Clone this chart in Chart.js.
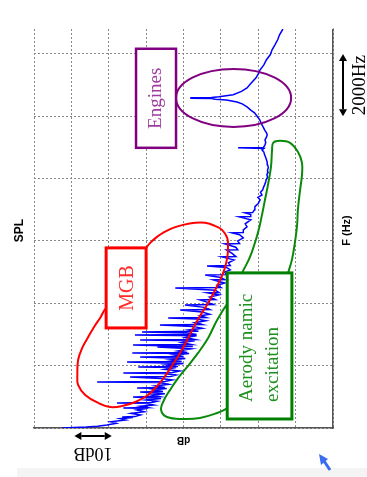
<!DOCTYPE html>
<html><head><meta charset="utf-8">
<script src="https://cdn.jsdelivr.net/npm/chart.js@4.4.0/dist/chart.umd.min.js"></script>
<style>html,body{margin:0;padding:0;background:#fff;}canvas{display:block;}</style>
</head><body>
<canvas id="c" width="367" height="477"></canvas>
<script>
// ---- spectrum (frequency in Hz, level in dB) ----
const freqHz = [0,30,60,96,150,200,257,300,340,353,365,417,470,520,578,630,642,655,700,738,790,803,815,860,899,950,995,1010,1059,1100,1156,1170,1220,1270,1284,1300,1350,1400,1460,1477,1490,1540,1590,1637,1650,1700,1750,1766,1780,1830,1880,1940,1958,1975,2022,2070,2119,2135,2183,2230,2279,2295,2343,2390,2408,2425,2470,2540,2600,2615,2664,2680,2740,2800,2825,2840,2900,2960,2985,3000,3050,3082,3100,3146,3200,3260,3306,3320,3380,3440,3500,3531,3545,3600,3650,3720,3788,3800,3870,3948,3960,4030,4109,4120,4200,4270,4334,4345,4420,4494,4505,4580,4650,4700,4751,4760,4830,4911,4920,5000,5072,5150,5200,5210,5300,5393,5489,5500,5600,5714,5720,5800,5906,5915,6000,6100,6200,6260,6270,6356,6450,6550,6677,6773,6785,6850,6902,6910,7000,7100,7200,7319,7400,7479,7560,7640,7720,7800,7900,7961,8050,8121,8200,8282,8360,8442,8520,8603,8680,8763,8850,8924,8970,8990,9000,9084,9160,9245,9330,9405,9470,9566,9660,9770,9887,10000,10110,10200,10300,10400,10460,10520,10550,10570,10580,10590,10595,10600,10625,10690,10800,10910,11050,11235,11400,11492,11650,11813,11973,12134,12300,12455,12615,12800];
const splDb = [72.5,66,63,60.5,58,59.5,55.5,57,53.5,56.4,53,51.5,54,50.5,52.5,49.5,56.1,49.5,51.5,48,50.5,57.8,48.5,47,50,46,53.5,46.5,48.5,45,51.6,45.5,48,44.5,52.4,45,47.5,44,46.5,63.1,45,43,46,54.3,43.5,42,45.5,56.1,43,41,45,42,52.1,41.5,44.5,40,55.1,40.5,43.5,39.5,51.6,40,42.5,38.5,53.7,39,41.5,38,47,37.5,53.5,38,40.5,37,51.6,37,39.5,36.5,53,36.5,39,51.1,36,38.5,35,37.5,46.3,35,37,34,36.5,44.1,34,35.5,33,35,40.9,33,34.5,39.6,32,33.5,35.6,31.5,33,30.5,33.5,30.5,31.5,42.2,30,31,29,30.5,32,29,30,34.2,28.5,29,27.5,28.5,33.7,27.5,28,26.5,29.7,26,27,28.5,25.5,26,28.9,25,25.5,24,25,27,24,24,23,23.5,22,25.1,22,22,23.5,21.5,21,20.9,20.0,19.5,20.1,19,19.4,18.8,18.6,18.3,18.0,17.9,17.5,17.7,17.4,17.5,17.3,17.5,17.6,17.8,18.0,18.3,18.5,19.0,18.5,25.4,18.6,18.2,18.0,18.2,17.8,17.6,17.8,18.3,18.7,19.2,19.6,20.3,21.0,22.0,23.0,24.3,25.7,28.5,31.5,32.5,38.2,33,38.2,32.5,30.5,26.7,24.5,23.0,22.0,20.6,19.8,19.5,18.5,17.8,16.8,16.3,15.5,14.8,14.3,13.4];

// ---- hand-drawn zones ----
const mgbZoneSpl = [50.0,48.9,47.1,45.5,42.8,40.1,36.9,34.2,31.6,29.7,28.3,28.1,28.3,29.1,30.2,31.8,33.4,35.6,37.4,39.0,40.9,42.8,44.9,46.8,49.5,52.9,56.4,59.6,62.8,66.3,68.2,68.4,68.2,67.1,65.5,63.6,62.3,60.7,58.0];
const mgbZoneHz  = [5778,5939,6131,6260,6420,6516,6581,6581,6484,6356,6099,5778,5457,5072,4751,4366,4013,3595,3210,2825,2408,2054,1669,1380,1059,835,706,674,803,1059,1380,1701,2183,2568,2921,3306,3531,3852,4100];
const aeroLowSpl = [26.5,28.1,31.0,33.4,36.1,39.0,41.4,43.6,45.2,46.0,44.4,40.1,35.6,31.0,28.1,26.5];
const aeroLowHz  = [4200,4013,3467,2889,2408,1958,1605,1220,899,578,353,289,321,482,642,750];
const aeroHighSpl = [12.5,12.0,11.0,10.2,9.6,9.4,8.8,8.3,8.3,9.4,11.5,14.2,16.0,16.3,16.6,17.4,18.2,19.0,20.1,22.2,24.3,25.0];
const aeroHighHz  = [4700,4976,5393,5939,6516,6998,7640,8121,8507,8860,9149,9213,9149,8924,8378,7800,7319,6837,6260,5489,4976,4700];

// ---- axis settings / labels ----
const splTicks = [0, 10, 20, 30, 40, 50, 60, 70, 80];
const hzTicks = [0, 2000, 4000, 6000, 8000, 10000, 12000];
const splRange = [0, 80];
const hzRange = [0, 12800];
const labelSpl = 'SPL', labelFreq = 'F (Hz)', labelDb = 'dB', label10dB = '10dB', label2000 = '2000Hz';

const engineEllipse = {spl: 26.6, hz: 10590, dSpl: 15.4, dHz: 930};
const boxes = [
  {lines:['Engines'], spl:[52.7,42.0], hz:[8988,12166], stroke:'#800080', lw:2.5, color:'#a03ca0', size:19, align:'center', textSpl:[47.3], textHz:10577},
  {lines:['MGB'], spl:[60.7,50.0], hz:[3210,5778], stroke:'#ff0000', lw:3, color:'#ff2a2a', size:20, align:'center', textSpl:[55.0], textHz:4494},
  {lines:['Aerody namic','excitation'], spl:[28.3,11.0], hz:[289,4976], stroke:'#008000', lw:3, color:'#1f8f1f', size:19, align:'left', textSpl:[23.0,16.0], textHz:835}
];

const toPts = (xs, ys) => xs.map((v, i) => ({x: v, y: ys[i]}));

const annotate = {
  id: 'annotate',
  beforeDatasetsDraw(chart) {
    const {ctx, chartArea: a} = chart;
    ctx.save(); ctx.fillStyle = '#fff';
    ctx.fillRect(a.left - 1, a.top - 2, a.right - a.left + 1, 2);
    ctx.restore();
  },
  afterDatasetsDraw(chart) {
    const {ctx, scales: {x, y}} = chart;
    ctx.save();
    const cx = x.getPixelForValue(engineEllipse.spl), cy = y.getPixelForValue(engineEllipse.hz);
    const rx = Math.abs(x.getPixelForValue(engineEllipse.spl + engineEllipse.dSpl) - cx);
    const ry = Math.abs(y.getPixelForValue(engineEllipse.hz + engineEllipse.dHz) - cy);
    ctx.beginPath(); ctx.ellipse(cx, cy, rx, ry, 0, 0, Math.PI * 2);
    ctx.strokeStyle = '#800080'; ctx.lineWidth = 2; ctx.stroke();
    for (const b of boxes) {
      const x1 = x.getPixelForValue(b.spl[0]), x2 = x.getPixelForValue(b.spl[1]);
      const y1 = y.getPixelForValue(b.hz[1]), y2 = y.getPixelForValue(b.hz[0]);
      ctx.fillStyle = '#fff'; ctx.fillRect(x1, y1, x2 - x1, y2 - y1);
      ctx.lineWidth = b.lw; ctx.strokeStyle = b.stroke; ctx.strokeRect(x1, y1, x2 - x1, y2 - y1);
      ctx.fillStyle = b.color; ctx.font = b.size + 'px "Liberation Serif"';
      b.lines.forEach((t, i) => {
        ctx.save();
        ctx.translate(x.getPixelForValue(b.textSpl[i]), y.getPixelForValue(b.textHz));
        ctx.rotate(-Math.PI / 2);
        ctx.textAlign = b.align; ctx.textBaseline = 'middle';
        ctx.fillText(t, 0, 0);
        ctx.restore();
      });
    }
    ctx.restore();
  }
};

function rotText(ctx, t, px, py, ang, font, color) {
  ctx.save(); ctx.translate(px, py); ctx.rotate(ang * Math.PI / 180);
  ctx.font = font; ctx.fillStyle = color; ctx.textAlign = 'center'; ctx.textBaseline = 'middle';
  ctx.fillText(t, 0, 0); ctx.restore();
}
function arrow(ctx, x1, y1, x2, y2) {
  const ang = Math.atan2(y2 - y1, x2 - x1), L = 7, W = 4;
  ctx.save(); ctx.strokeStyle = '#000'; ctx.fillStyle = '#000'; ctx.lineWidth = 2;
  ctx.beginPath();
  ctx.moveTo(x1 + Math.cos(ang) * L, y1 + Math.sin(ang) * L);
  ctx.lineTo(x2 - Math.cos(ang) * L, y2 - Math.sin(ang) * L); ctx.stroke();
  [[x1, y1, ang], [x2, y2, ang + Math.PI]].forEach(([px, py, a]) => {
    ctx.beginPath(); ctx.moveTo(px, py);
    ctx.lineTo(px + Math.cos(a) * L - Math.sin(a) * W, py + Math.sin(a) * L + Math.cos(a) * W);
    ctx.lineTo(px + Math.cos(a) * L + Math.sin(a) * W, py + Math.sin(a) * L - Math.cos(a) * W);
    ctx.closePath(); ctx.fill();
  });
  ctx.restore();
}

const outer = {
  id: 'outer',
  beforeDraw(chart) {
    const {ctx, width, height} = chart;
    ctx.save(); ctx.fillStyle = '#fff'; ctx.fillRect(0, 0, width, height);
    ctx.fillStyle = '#f4f4f4'; ctx.fillRect(17, height - 9, width - 17, 9); ctx.restore();
  },
  afterDraw(chart) {
    const {ctx, chartArea: a, scales: {x, y}} = chart;
    const midY = (a.top + a.bottom) / 2 + 2;
    rotText(ctx, labelSpl, a.left - 14, midY, -90, 'bold 12px "Liberation Sans"', '#000');
    rotText(ctx, labelFreq, a.right + 14, midY, -90, 'bold 11px "Liberation Sans"', '#000');
    rotText(ctx, labelDb, (a.left + a.right) / 2, a.bottom + 12, 180, 'bold 10px "Liberation Sans"', '#000');
    const ax1 = x.getPixelForValue(69.2), ax2 = x.getPixelForValue(59.2);
    arrow(ctx, ax1, a.bottom + 8, ax2, a.bottom + 8);
    rotText(ctx, label10dB, (ax1 + ax2) / 2, a.bottom + 25, 180, '18px "Liberation Serif"', '#000');
    const hy1 = y.getPixelForValue(12000), hy2 = y.getPixelForValue(10000);
    arrow(ctx, a.right + 10, hy1, a.right + 10, hy2);
    rotText(ctx, label2000, a.right + 27, (hy1 + hy2) / 2, -90, '19px "Liberation Serif"', '#000');
    // cursor mark
    ctx.save(); ctx.fillStyle = '#3a6df0'; ctx.strokeStyle = '#3a6df0'; ctx.lineWidth = 3;
    ctx.beginPath(); ctx.moveTo(324, 461); ctx.lineTo(330, 470); ctx.stroke();
    ctx.beginPath(); ctx.moveTo(319, 454); ctx.lineTo(328, 459); ctx.lineTo(321, 465); ctx.closePath(); ctx.fill();
    ctx.restore();
  }
};

const gridOpts = {color: '#8a8a8a', lineWidth: 1, drawTicks: false};
new Chart(document.getElementById('c'), {
  type: 'scatter',
  data: {
    datasets: [
      {data: toPts(mgbZoneSpl, mgbZoneHz), showLine: true, borderColor: '#ff0000', borderWidth: 2, pointRadius: 0, tension: 0.4, fill: false},
      {data: toPts(aeroLowSpl, aeroLowHz), showLine: true, borderColor: '#0a8a0a', borderWidth: 2, pointRadius: 0, tension: 0.4, fill: false},
      {data: toPts(aeroHighSpl, aeroHighHz), showLine: true, borderColor: '#0a8a0a', borderWidth: 2, pointRadius: 0, tension: 0.4, fill: false},
      {data: toPts(splDb, freqHz), showLine: true, borderColor: '#0000ff', borderWidth: 1.5, pointRadius: 0, tension: 0, fill: false}
    ]
  },
  options: {
    responsive: false, animation: false, devicePixelRatio: 1,
    layout: {padding: {left: 34, right: 34, top: 29, bottom: 49}},
    plugins: {legend: {display: false}, tooltip: {enabled: false}},
    scales: {
      x: {type: 'linear', reverse: true, min: splRange[0], max: splRange[1],
          afterBuildTicks: ax => { ax.ticks = splTicks.map(v => ({value: v})); },
          ticks: {display: false}, grid: gridOpts,
          border: {display: true, color: '#555', width: 1.5, dash: [2, 2]}},
      y: {type: 'linear', position: 'right', min: hzRange[0], max: hzRange[1],
          afterBuildTicks: ax => { ax.ticks = hzTicks.map(v => ({value: v})); },
          ticks: {display: false}, grid: gridOpts,
          border: {display: true, color: '#555', width: 1.5, dash: [2, 2]}}
    }
  },
  plugins: [outer, annotate]
});
</script>
</body></html>
